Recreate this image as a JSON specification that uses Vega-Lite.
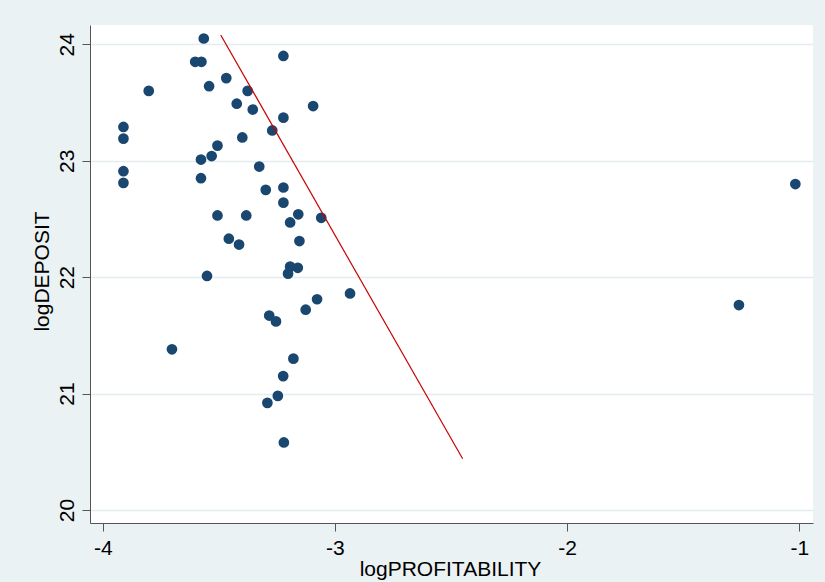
{
  "$schema": "https://vega.github.io/schema/vega-lite/v6.json",
  "width": 723,
  "height": 498,
  "autosize": {"type": "none"},
  "padding": {"left": 90, "top": 25, "right": 12, "bottom": 59},
  "background": "#eaf2f3",
  "view": {"fill": "white", "stroke": null},
  "config": {
    "font": "Liberation Sans",
    "axis": {
      "domainColor": "#555555",
      "tickColor": "#555555",
      "domainWidth": 1,
      "tickWidth": 1,
      "tickSize": 8,
      "labelFontSize": 21,
      "labelColor": "black",
      "titleFontSize": 21,
      "titleFontWeight": "normal",
      "titleColor": "black",
      "labelFlush": false,
      "labelOverlap": false
    }
  },
  "datasets": {
    "points": [
      {"logPROFITABILITY": -3.565, "logDEPOSIT": 24.05},
      {"logPROFITABILITY": -3.602, "logDEPOSIT": 23.85},
      {"logPROFITABILITY": -3.575, "logDEPOSIT": 23.85},
      {"logPROFITABILITY": -3.222, "logDEPOSIT": 23.90},
      {"logPROFITABILITY": -3.468, "logDEPOSIT": 23.71},
      {"logPROFITABILITY": -3.542, "logDEPOSIT": 23.64},
      {"logPROFITABILITY": -3.802, "logDEPOSIT": 23.60},
      {"logPROFITABILITY": -3.376, "logDEPOSIT": 23.60},
      {"logPROFITABILITY": -3.423, "logDEPOSIT": 23.49},
      {"logPROFITABILITY": -3.354, "logDEPOSIT": 23.44},
      {"logPROFITABILITY": -3.094, "logDEPOSIT": 23.47},
      {"logPROFITABILITY": -3.222, "logDEPOSIT": 23.37},
      {"logPROFITABILITY": -3.911, "logDEPOSIT": 23.29},
      {"logPROFITABILITY": -3.911, "logDEPOSIT": 23.19},
      {"logPROFITABILITY": -3.270, "logDEPOSIT": 23.26},
      {"logPROFITABILITY": -3.399, "logDEPOSIT": 23.20},
      {"logPROFITABILITY": -3.506, "logDEPOSIT": 23.13},
      {"logPROFITABILITY": -3.531, "logDEPOSIT": 23.04},
      {"logPROFITABILITY": -3.577, "logDEPOSIT": 23.01},
      {"logPROFITABILITY": -3.911, "logDEPOSIT": 22.91},
      {"logPROFITABILITY": -3.911, "logDEPOSIT": 22.81},
      {"logPROFITABILITY": -3.577, "logDEPOSIT": 22.85},
      {"logPROFITABILITY": -3.326, "logDEPOSIT": 22.95},
      {"logPROFITABILITY": -3.298, "logDEPOSIT": 22.75},
      {"logPROFITABILITY": -3.222, "logDEPOSIT": 22.77},
      {"logPROFITABILITY": -3.222, "logDEPOSIT": 22.64},
      {"logPROFITABILITY": -3.506, "logDEPOSIT": 22.53},
      {"logPROFITABILITY": -3.382, "logDEPOSIT": 22.53},
      {"logPROFITABILITY": -3.158, "logDEPOSIT": 22.54},
      {"logPROFITABILITY": -3.059, "logDEPOSIT": 22.51},
      {"logPROFITABILITY": -3.193, "logDEPOSIT": 22.47},
      {"logPROFITABILITY": -3.457, "logDEPOSIT": 22.33},
      {"logPROFITABILITY": -3.413, "logDEPOSIT": 22.28},
      {"logPROFITABILITY": -3.153, "logDEPOSIT": 22.31},
      {"logPROFITABILITY": -3.551, "logDEPOSIT": 22.01},
      {"logPROFITABILITY": -3.193, "logDEPOSIT": 22.09},
      {"logPROFITABILITY": -3.202, "logDEPOSIT": 22.03},
      {"logPROFITABILITY": -3.160, "logDEPOSIT": 22.08},
      {"logPROFITABILITY": -3.077, "logDEPOSIT": 21.81},
      {"logPROFITABILITY": -2.935, "logDEPOSIT": 21.86},
      {"logPROFITABILITY": -3.126, "logDEPOSIT": 21.72},
      {"logPROFITABILITY": -3.283, "logDEPOSIT": 21.67},
      {"logPROFITABILITY": -3.254, "logDEPOSIT": 21.62},
      {"logPROFITABILITY": -3.702, "logDEPOSIT": 21.38},
      {"logPROFITABILITY": -3.179, "logDEPOSIT": 21.30},
      {"logPROFITABILITY": -3.223, "logDEPOSIT": 21.15},
      {"logPROFITABILITY": -3.246, "logDEPOSIT": 20.98},
      {"logPROFITABILITY": -3.291, "logDEPOSIT": 20.92},
      {"logPROFITABILITY": -3.220, "logDEPOSIT": 20.58},
      {"logPROFITABILITY": -1.017, "logDEPOSIT": 22.80},
      {"logPROFITABILITY": -1.260, "logDEPOSIT": 21.76}
    ],
    "fit": [
      {"logPROFITABILITY": -3.492, "logDEPOSIT": 24.08},
      {"logPROFITABILITY": -2.450, "logDEPOSIT": 20.44}
    ]
  },
  "layer": [
    {
      "data": {"name": "points"},
      "mark": {"type": "circle", "color": "#1a476f", "size": 115, "opacity": 1},
      "encoding": {
        "x": {
          "field": "logPROFITABILITY",
          "type": "quantitative",
          "scale": {"domain": [-4.055, -0.941], "nice": false, "zero": false},
          "axis": {
            "values": [-4, -3, -2, -1],
            "labelExpr": "'' + datum.value",
            "grid": false,
            "labelPadding": 6,
            "titleBaseline": "alphabetic",
            "titleY": 52.7,
            "titleX": 360
          }
        },
        "y": {
          "field": "logDEPOSIT",
          "type": "quantitative",
          "scale": {"domain": [19.888, 24.166], "nice": false, "zero": false},
          "axis": {
            "values": [20, 21, 22, 23, 24],
            "labelExpr": "'' + datum.value",
            "grid": true,
            "gridColor": "#e3ecee",
            "gridWidth": 1.5,
            "labelAngle": -90,
            "labelAlign": "center",
            "labelBaseline": "alphabetic",
            "labelPadding": 8.7,
            "titleAngle": -90,
            "titleBaseline": "alphabetic",
            "titleAlign": "center",
            "titleX": -41.7,
            "titleY": 246
          }
        }
      }
    },
    {
      "data": {"name": "fit"},
      "mark": {"type": "line", "color": "#c80000", "strokeWidth": 1.2},
      "encoding": {
        "x": {"field": "logPROFITABILITY", "type": "quantitative"},
        "y": {"field": "logDEPOSIT", "type": "quantitative"}
      }
    }
  ]
}
